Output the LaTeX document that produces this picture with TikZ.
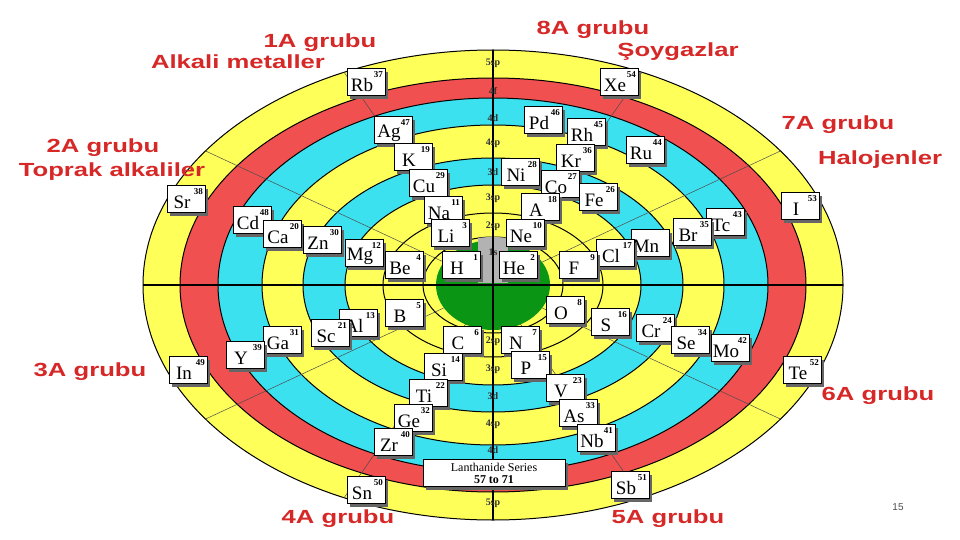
\documentclass[tikz,border=0pt]{standalone}
\usepackage{fontspec}
\setmainfont{Liberation Serif}
\newfontfamily\lsans{Liberation Sans}
\begin{document}
\begin{tikzpicture}[x=1pt,y=-1pt,
  elbox/.style={draw=black,fill=white,line width=0.6pt,minimum width=38pt,minimum height=27pt,inner sep=0pt},
  grp/.style={font=\lsans\bfseries\fontsize{19}{21}\selectfont,text=grpred,xscale=1.35},
  shell/.style={font=\bfseries\fontsize{10}{10}\selectfont,text=black!80},
  ring/.style={draw=black,line width=1pt}]
\definecolor{grpred}{RGB}{215,40,40}
\definecolor{yel}{RGB}{255,255,90}
\definecolor{rd}{RGB}{240,80,80}
\definecolor{cy}{RGB}{60,225,240}
\definecolor{gr}{RGB}{10,150,20}
\useasboundingbox (0,0) rectangle (960,540);
\fill[white] (0,0) rectangle (960,540);
\coordinate (c) at (493,285);
\def\ell#1#2#3{\filldraw[fill=#3,ring] (c) ellipse [x radius=#1pt,y radius=#2pt];}
\ell{350}{235}{yel}
\ell{313}{207}{rd}
\ell{275}{187}{cy}
\ell{231}{160}{yel}
\ell{190}{127}{cy}
\ell{148}{100}{yel}
\ell{110}{72}{yel}
\ell{70}{48}{yel}
\begin{scope}
\clip (c) ellipse [x radius=350pt,y radius=235pt];
\foreach \a in {25,55,125,155,205,235,305,335}
  \draw[black!70,line width=0.5pt] (c) -- ++(\a:400);
\end{scope}
\fill[gr] (c) ellipse [x radius=57pt,y radius=45pt];
\begin{scope}
\clip (c) ellipse [x radius=70pt,y radius=48pt];
\fill[gray!60] (478,230) rectangle (508,283);
\end{scope}
\draw[line width=1.2pt] (143,285) -- (843,285);
\draw[line width=1.6pt] (493,50) -- (493,520);
\foreach \y/\t in {63/5sp,91/4f,118/4d,143/4sp,172/3d,198/3sp,226/2sp,252/1s,341/2sp,369/3sp,396/3d,424/4sp,450/4d,503/5sp}
  \node[shell] (s\y) at (493,\y) {\t};
\newcommand\el[4]{%
  \fill[black!60] (#1-16,#2-10) rectangle (#1+22,#2+17);
  \node[elbox] (e#3) at (#1,#2) {};
  \node[inner sep=0pt,font=\fontsize{19}{19}\selectfont] at (#1-4,#2+3) {#3};
  \node[anchor=north east,inner sep=0pt,font=\bfseries\fontsize{9}{9}\selectfont] at (#1+17,#2-11) {#4};}
\el{366}{82}{Rb}{37}
\el{619}{82}{Xe}{54}
\el{393}{130}{Ag}{47}
\el{543}{120}{Pd}{46}
\el{586}{132}{Rh}{45}
\el{645}{150}{Ru}{44}
\el{413}{157}{K}{19}
\el{575}{158}{Kr}{36}
\el{520}{172}{Ni}{28}
\el{560}{184}{Co}{27}
\el{428}{183}{Cu}{29}
\el{598}{197}{Fe}{26}
\el{186}{199}{Sr}{38}
\el{800}{206}{I}{53}
\el{443}{210}{Na}{11}
\el{540}{207}{A}{18}
\el{252}{220}{Cd}{48}
\el{725}{222}{Tc}{43}
\el{282}{234}{Ca}{20}
\el{450}{233}{Li}{3}
\el{525}{233}{Ne}{10}
\el{322}{240}{Zn}{30}
\el{650}{243}{Mn}{}
\el{692}{232}{Br}{35}
\el{364}{253}{Mg}{12}
\el{615}{253}{Cl}{17}
\el{404}{265}{Be}{4}
\el{461}{265}{H}{1}
\el{518}{265}{He}{2}
\el{578}{265}{F}{9}
\el{404}{313}{B}{5}
\el{565}{310}{O}{8}
\el{358}{323}{Al}{13}
\el{610}{322}{S}{16}
\el{330}{333}{Sc}{21}
\el{655}{328}{Cr}{24}
\el{282}{340}{Ga}{31}
\el{690}{340}{Se}{34}
\el{245}{355}{Y}{39}
\el{730}{348}{Mo}{42}
\el{188}{370}{In}{49}
\el{802}{370}{Te}{52}
\el{462}{340}{C}{6}
\el{520}{340}{N}{7}
\el{443}{367}{Si}{14}
\el{530}{365}{P}{15}
\el{428}{393}{Ti}{22}
\el{565}{388}{V}{23}
\el{413}{418}{Ge}{32}
\el{578}{413}{As}{33}
\el{393}{442}{Zr}{40}
\el{596}{438}{Nb}{41}
\el{366}{490}{Sn}{50}
\el{630}{485}{Sb}{51}
\fill[black!60] (426,463) rectangle (568,490);
\node[draw,fill=white,minimum width=142pt,minimum height=27pt,inner sep=0pt,align=center,font=\fontsize{12}{12}\selectfont] (lan) at (494,473) {Lanthanide Series\\ \textbf{57 to 71}};
\node[grp] (g1) at (320,43) {1A grubu};
\node[grp] (g1b) at (238,62) {Alkali metaller};
\node[grp] (g8) at (593,30) {8A grubu};
\node[grp] (g8b) at (678,52) {Şoygazlar};
\node[grp] (g7) at (838,125) {7A grubu};
\node[grp] (g7b) at (880,160) {Halojenler};
\node[grp] (g2) at (103,148) {2A grubu};
\node[grp] (g2b) at (112,172) {Toprak alkaliler};
\node[grp] (g3) at (90,372) {3A grubu};
\node[grp] (g6) at (878,396) {6A grubu};
\node[grp] (g4) at (338,519) {4A grubu};
\node[grp] (g5) at (668,519) {5A grubu};
\node[font=\lsans\fontsize{10}{10}\selectfont,text=black!70] (pg) at (898,507) {15};
\end{tikzpicture}
\end{document}
